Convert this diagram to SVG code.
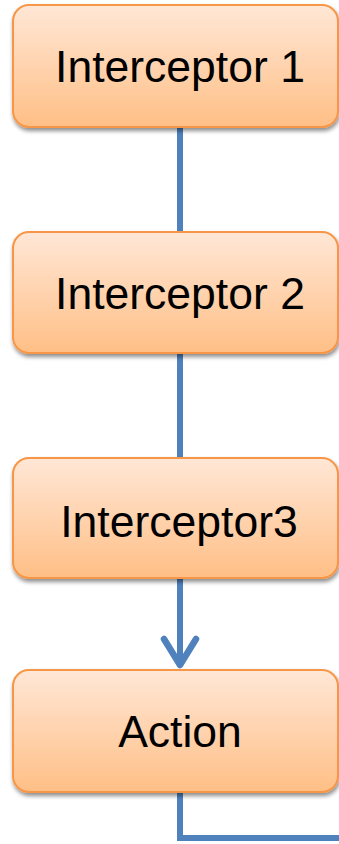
<svg xmlns="http://www.w3.org/2000/svg" width="339" height="844" viewBox="0 0 339 844">
  <defs>
    <linearGradient id="boxFill" x1="0" y1="0" x2="0" y2="1">
      <stop offset="0" stop-color="#FFE7D6"/>
      <stop offset="0.5" stop-color="#FFD3AE"/>
      <stop offset="1" stop-color="#FFBF86"/>
    </linearGradient>
    <filter id="shadow" x="-10%" y="-10%" width="130%" height="130%">
      <feGaussianBlur in="SourceAlpha" stdDeviation="2.2"/>
      <feOffset dx="1" dy="3" result="b"/>
      <feComponentTransfer><feFuncA type="linear" slope="0.45"/></feComponentTransfer>
      <feMerge><feMergeNode/><feMergeNode in="SourceGraphic"/></feMerge>
    </filter>
  </defs>
  <style>
    .box { fill: url(#boxFill); stroke: #F79646; stroke-width: 2; filter: url(#shadow); }
    .label { font-family: "Liberation Sans", Arial, sans-serif; font-size: 44.5px; fill: #000; text-anchor: middle; }
    .wire { fill: none; stroke: #4F81BD; stroke-width: 6; }
    .head { fill: none; stroke: #4F81BD; stroke-width: 6.5; stroke-linecap: round; stroke-linejoin: round; }
  </style>

  <rect width="339" height="844" fill="#FFFFFF"/>

  <!-- connectors -->
  <g id="connectors">
    <line class="wire" x1="180" y1="127" x2="180" y2="232"/>
    <line class="wire" x1="180" y1="353" x2="180" y2="458"/>
    <line class="wire" x1="180" y1="578" x2="180" y2="664"/>
    <polyline class="head" points="164,639 180,665 196,639"/>
    <polyline class="wire" points="180,792 180,838 342,838"/>
  </g>

  <g id="interceptor1">
    <rect class="box" x="13" y="5" width="325" height="122" rx="16"/>
    <text class="label" x="180" y="82">Interceptor 1</text>
  </g>
  <g id="interceptor2">
    <rect class="box" x="13" y="232" width="325" height="121" rx="16"/>
    <text class="label" x="180" y="309">Interceptor 2</text>
  </g>
  <g id="interceptor3">
    <rect class="box" x="13" y="458" width="325" height="120" rx="16"/>
    <text class="label" x="179" y="537">Interceptor3</text>
  </g>
  <g id="action">
    <rect class="box" x="13" y="670" width="325" height="122" rx="16"/>
    <text class="label" x="180" y="747">Action</text>
  </g>
</svg>
